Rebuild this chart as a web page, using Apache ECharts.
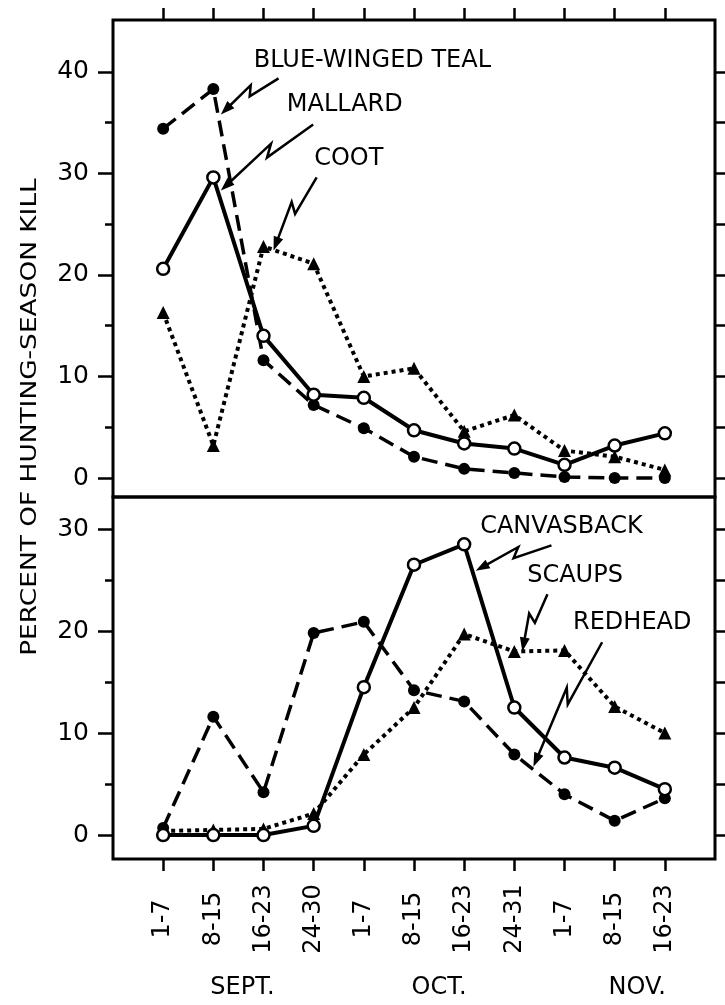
<!DOCTYPE html>
<html><head><meta charset="utf-8">
<script src="https://cdn.jsdelivr.net/npm/echarts@6/dist/echarts.min.js"></script>
<style>html,body{margin:0;padding:0;background:#fff}#c{width:725px;height:1005px}</style>
</head><body><div id="c"></div>
<script>
// ---------- DATA ----------
const categories = ['1-7','8-15','16-23','24-30','1-7','8-15','16-23','24-31','1-7','8-15','16-23'];
const months = ['SEPT.','OCT.','NOV.'];
const topTicks = [0, 10, 20, 30, 40];
const bottomTicks = [0, 10, 20, 30];
const yTitle = 'PERCENT OF HUNTING-SEASON KILL';

const tealValues       = [34.4, 38.3, 11.6, 7.2, 4.9, 2.1, 0.9, 0.5, 0.1, 0.0, 0.0];
const mallardValues    = [20.6, 29.6, 14.0, 8.2, 7.9, 4.7, 3.4, 2.9, 1.3, 3.2, 4.4];
const cootValues       = [16.3, 3.2, 22.8, 21.1, 10.0, 10.8, 4.6, 6.2, 2.7, 2.1, 0.8];
const canvasbackValues = [0.0, 0.0, 0.0, 0.9, 14.5, 26.5, 28.5, 12.5, 7.6, 6.6, 4.5];
const redheadValues    = [0.7, 11.6, 4.2, 19.8, 20.9, 14.2, 13.1, 7.9, 4.0, 1.4, 3.6];
const scaupsValues     = [0.4, 0.5, 0.6, 2.1, 7.9, 12.5, 19.7, 18.0, 18.1, 12.6, 10.0];

// ---------- CHART ----------
const FONT = 'DejaVu Sans';
const chart = echarts.init(document.getElementById('c'), null, {renderer: 'canvas'});
const idx = categories.map((_, i) => i);

function xAx(grid, pos, withLabels) {
  return {
    type: 'value', gridIndex: grid, position: pos, min: -1, max: 11,
    axisLine: {show: false, onZero: false}, splitLine: {show: false},
    axisTick: {show: true, inside: false, length: 12, customValues: idx, lineStyle: {color: '#000', width: 2.5}},
    axisLabel: withLabels ? {
      show: true, customValues: idx, formatter: v => categories[Math.round(v)] || '',
      rotate: 90, align: 'center', verticalAlign: 'middle', margin: 60,
      fontSize: 24, fontFamily: FONT, color: '#000'
    } : {show: false}
  };
}
function yAx(grid, pos, min, max, ticks, len, labels) {
  return {
    type: 'value', gridIndex: grid, position: pos, min: min, max: max,
    axisLine: {show: false, onZero: false}, splitLine: {show: false},
    axisTick: {show: true, inside: false, length: len, customValues: ticks, lineStyle: {color: '#000', width: 2.5}},
    axisLabel: labels ? {show: true, customValues: labels, margin: 24, fontSize: 25, fontFamily: FONT, color: '#000'} : {show: false}
  };
}
const TOP_MIN = -1.87, TOP_MAX = 45.1, BOT_MIN = -2.35, BOT_MAX = 33.14;
const fives = (m) => { const a = []; for (let v = 0; v <= m; v += 5) a.push(v); return a; };
const odd = (m) => fives(m).filter(v => v % 10 !== 0);

function line(name, vals, g, kind, marker) {
  const s = {
    name: name, type: 'line', xAxisIndex: g, yAxisIndex: g * 3,
    data: vals.map((v, i) => [i, v]),
    symbol: marker === 'open' ? 'circle' : marker, symbolSize: marker === 'triangle' ? 13 : 12,
    itemStyle: marker === 'open' ? {color: '#fff', borderColor: '#000', borderWidth: 2.5} : {color: '#000'},
    lineStyle: {color: '#000', width: 3.5, type: 'solid', cap: 'butt'},
    z: 3
  };
  if (kind === 'dashed') { s.lineStyle.type = [16, 8]; }
  if (kind === 'dotted') { s.lineStyle.type = [4, 4]; s.lineStyle.width = 4; }
  if (kind === 'solid') { s.lineStyle.width = 4; }
  return s;
}

chart.setOption({
  animation: false,
  backgroundColor: '#fff',
  grid: [
    {left: 113, top: 20, width: 602, height: 477, show: true, borderColor: '#000', borderWidth: 3, backgroundColor: 'transparent'},
    {left: 113, top: 497, width: 602, height: 362, show: true, borderColor: '#000', borderWidth: 3, backgroundColor: 'transparent'}
  ],
  xAxis: [xAx(0, 'top', false), xAx(1, 'bottom', true)],
  yAxis: [
    yAx(0, 'left', TOP_MIN, TOP_MAX, topTicks, 15, topTicks),
    yAx(0, 'left', TOP_MIN, TOP_MAX, odd(40), 8, null),
    yAx(0, 'right', TOP_MIN, TOP_MAX, fives(40), 12, null),
    yAx(1, 'left', BOT_MIN, BOT_MAX, bottomTicks, 15, bottomTicks),
    yAx(1, 'left', BOT_MIN, BOT_MAX, odd(30), 8, null),
    yAx(1, 'right', BOT_MIN, BOT_MAX, fives(30), 12, null)
  ],
  series: [
    line('BLUE-WINGED TEAL', tealValues, 0, 'dashed', 'circle'),
    line('MALLARD', mallardValues, 0, 'solid', 'open'),
    line('COOT', cootValues, 0, 'dotted', 'triangle'),
    line('REDHEAD', redheadValues, 1, 'dashed', 'circle'),
    line('SCAUPS', scaupsValues, 1, 'dotted', 'triangle'),
    line('CANVASBACK', canvasbackValues, 1, 'solid', 'open')
  ]
});

// ---------- ANNOTATIONS ----------
function P(g, x, y) { return chart.convertToPixel({xAxisIndex: g, yAxisIndex: g * 3}, [x, y]); }
function arrow(S, T) {
  const dx = T[0] - S[0], dy = T[1] - S[1], L = Math.hypot(dx, dy);
  const d = [dx / L, dy / L], n = [-d[1], d[0]];
  const A = [S[0] + d[0] * L * 0.5, S[1] + d[1] * L * 0.5];
  const B = [S[0] + d[0] * L * 0.4 + n[0] * 9, S[1] + d[1] * L * 0.4 + n[1] * 9];
  const ex = T[0] - B[0], ey = T[1] - B[1], L2 = Math.hypot(ex, ey);
  const e = [ex / L2, ey / L2], m = [-e[1], e[0]];
  const H = [T[0] - e[0] * 14, T[1] - e[1] * 14];
  return [
    {type: 'polyline', shape: {points: [S, A, B, [T[0] - e[0] * 6, T[1] - e[1] * 6]]}, style: {stroke: '#000', lineWidth: 2.5, fill: null}, z: 10},
    {type: 'polygon', shape: {points: [T, [H[0] + m[0] * 5, H[1] + m[1] * 5], [H[0] - m[0] * 5, H[1] - m[1] * 5]]}, style: {fill: '#000'}, z: 10}
  ];
}
function label(txt, p, size) {
  return {type: 'text', x: p[0], y: p[1], z: 10,
    style: {text: txt, fill: '#000', font: (size || 24) + 'px "' + FONT + '"', textAlign: 'center', textVerticalAlign: 'middle'}};
}
const notes = [
  {g: 0, text: 'BLUE-WINGED TEAL', at: [4.17, 41.1], from: [2.30, 39.35], to: [1.15, 35.8]},
  {g: 0, text: 'MALLARD', at: [3.62, 36.75], from: [2.99, 34.8], to: [1.15, 28.3]},
  {g: 0, text: 'COOT', at: [3.70, 31.4], from: [3.06, 29.6], to: [2.20, 22.4]},
  {g: 1, text: 'CANVASBACK', at: [7.94, 30.2], from: [7.74, 28.4], to: [6.23, 25.9]},
  {g: 1, text: 'SCAUPS', at: [8.21, 25.4], from: [7.66, 23.6], to: [7.16, 18.0]},
  {g: 1, text: 'REDHEAD', at: [9.35, 20.8], from: [8.75, 18.9], to: [7.38, 6.7]}
];
const graphics = [];
notes.forEach(nt => {
  graphics.push(label(nt.text, P(nt.g, nt.at[0], nt.at[1])));
  arrow(P(nt.g, nt.from[0], nt.from[1]), P(nt.g, nt.to[0], nt.to[1])).forEach(el => graphics.push(el));
});
const monthPos = [1.58, 5.5, 9.45];
months.forEach((m, i) => {
  const x = P(1, monthPos[i], 0)[0];
  graphics.push(label(m, [x, 988]));
});
graphics.push({type: 'text', x: 30, y: 417, rotation: Math.PI / 2, scaleX: 1.2, z: 10,
  style: {text: yTitle, fill: '#000', font: '22px "' + FONT + '"', textAlign: 'center', textVerticalAlign: 'middle'}});
chart.setOption({graphic: {elements: graphics}});
</script></body></html>
